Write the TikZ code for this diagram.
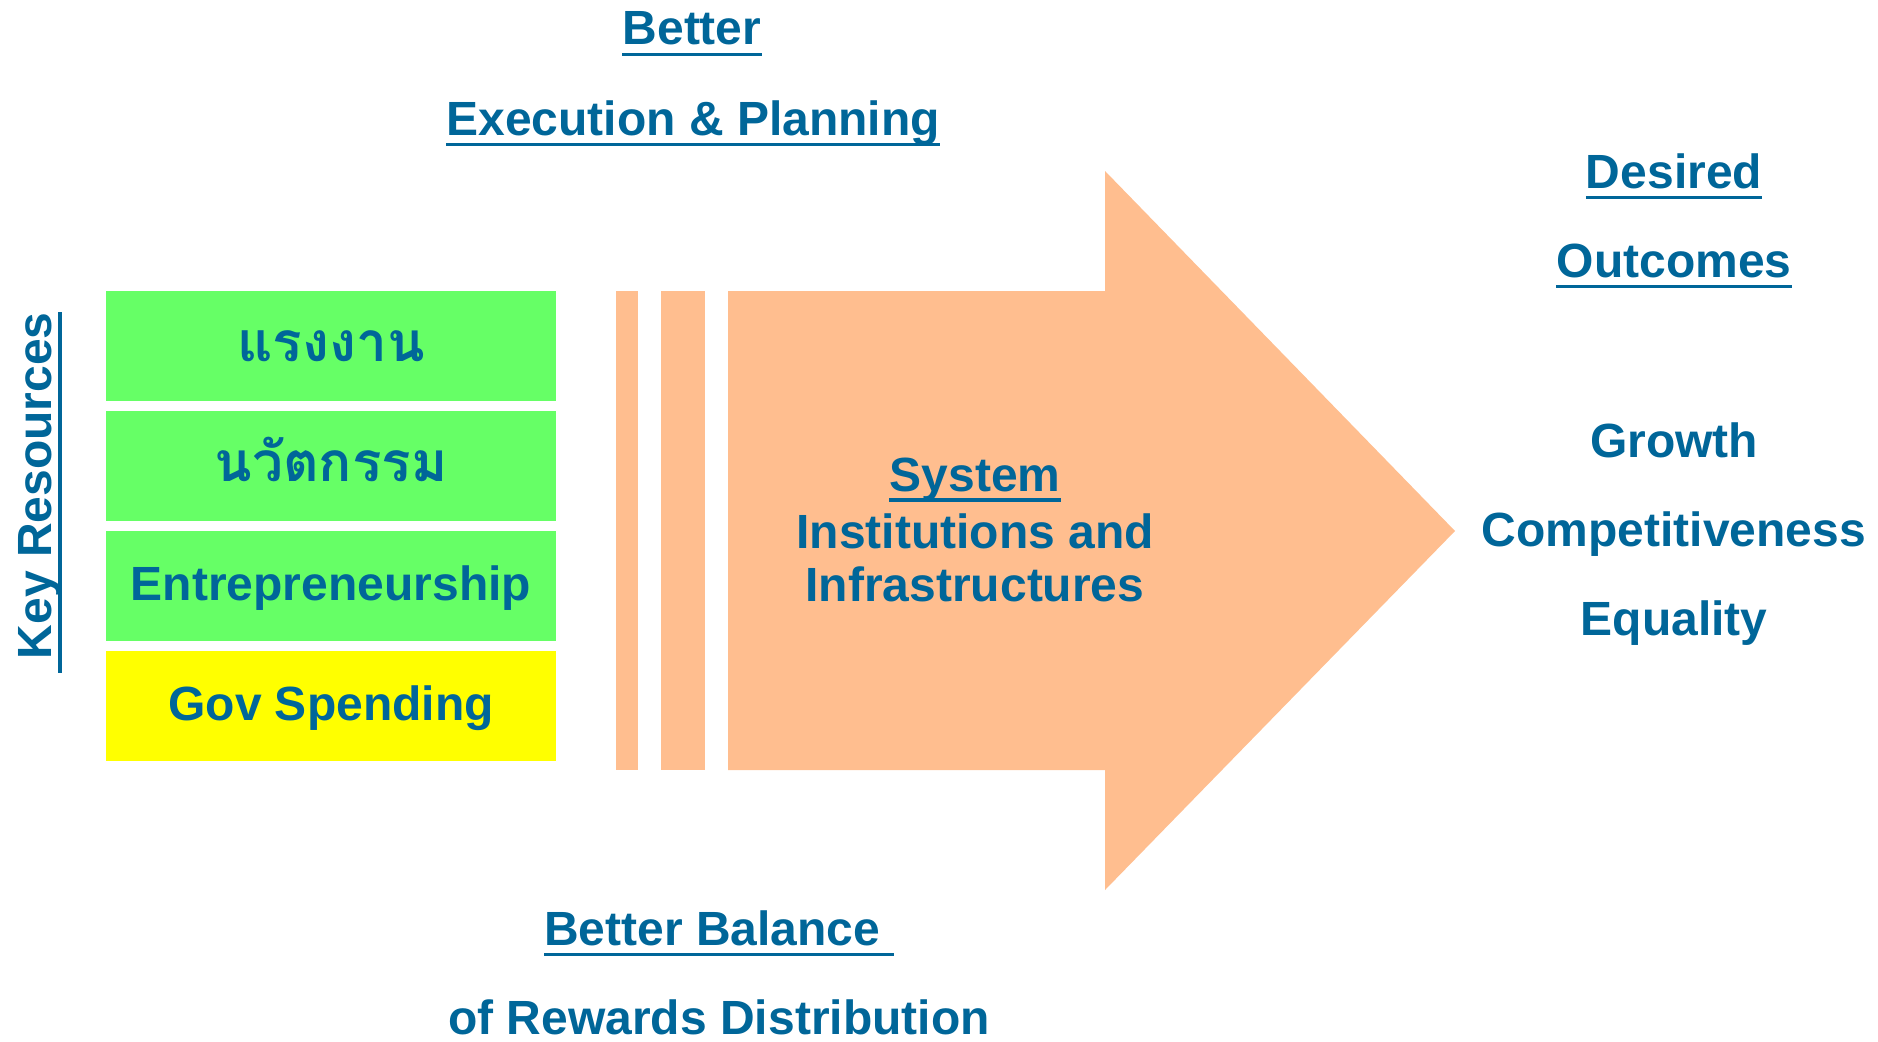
\documentclass[tikz,border=0pt]{standalone}
\usepackage{fontspec}
\setmainfont{Liberation Sans}
\newfontfamily\thaifont[Script=Thai]{Loma}
\definecolor{kblue}{RGB}{0,102,153}
\definecolor{kgreen}{RGB}{102,255,102}
\definecolor{kyellow}{RGB}{255,255,0}
\definecolor{korange}{RGB}{255,190,143}
\begin{document}
\begin{tikzpicture}[x=1pt,y=-1pt,
  txt/.style={text=kblue,font=\fontsize{48}{52}\selectfont\bfseries,inner sep=0pt,anchor=base},
  thai/.style={txt,font=\fontsize{55}{60}\selectfont\bfseries\thaifont},
  ul/.style={draw=kblue,line width=3.5pt},
  resbox/.style={minimum width=450pt,minimum height=110pt,inner sep=0pt,draw=none}]
\useasboundingbox (0,0) rectangle (1878,1041);
% resource boxes
\node[resbox,fill=kgreen]  (b1) at (331,346) {};
\node[resbox,fill=kgreen]  (b2) at (331,466) {};
\node[resbox,fill=kgreen]  (b3) at (331,586) {};
\node[resbox,fill=kyellow] (b4) at (331,706) {};
\node[thai] (t1) at (331,361) {แรงงาน};
\node[thai] (t2) at (331,481) {นวัตกรรม};
\node[txt] (t3) at (331,600) {Entrepreneurship};
\node[txt] (t4) at (331,720) {Gov Spending};
% key resources
\node[txt,rotate=90] (kr) at (51,492.5) {\hspace{.278em}Key Resources};
\draw[ul] ([xshift=9pt]kr.base west) -- ([xshift=9pt]kr.base east);
% bars and arrow
\fill[korange] (616,291) rectangle (638,770);
\fill[korange] (661,291) rectangle (705,770);
\fill[korange] (728,291) -- (1105,291) -- (1105,171) -- (1455,531) -- (1105,890) -- (1105,770) -- (728,770) -- cycle;
% system text
\node[txt] (sys) at (975,491) {System};
\draw[ul] ([yshift=-9pt]sys.base west) -- ([yshift=-9pt]sys.base east);
\node[txt] (inst) at (975,548) {Institutions and};
\node[txt] (infra) at (975,601) {Infrastructures};
% top labels
\node[txt] (bet) at (692,45) {Better};
\draw[ul] ([yshift=-9.5pt]bet.base west) -- ([yshift=-9.5pt]bet.base east);
\node[txt] (exe) at (693,135) {Execution \& Planning};
\draw[ul] ([yshift=-9.5pt]exe.base west) -- ([yshift=-9.5pt]exe.base east);
% bottom labels
\node[txt] (bal) at (719,945) {Better Balance\kern.278em\null};
\draw[ul] ([yshift=-9.5pt]bal.base west) -- ([yshift=-9.5pt]bal.base east);
\node[txt] (rew) at (719,1034) {of Rewards Distribution};
% outcomes
\node[txt] (des) at (1674,188) {Desired};
\draw[ul] ([yshift=-9.5pt]des.base west) -- ([yshift=-9.5pt]des.base east);
\node[txt] (out) at (1674,277) {Outcomes};
\draw[ul] ([yshift=-9.5pt]out.base west) -- ([yshift=-9.5pt]out.base east);
\node[txt] (gro) at (1674,457) {Growth};
\node[txt] (com) at (1674,546) {Competitiveness};
\node[txt] (equ) at (1674,635) {Equality};
\end{tikzpicture}
\end{document}
